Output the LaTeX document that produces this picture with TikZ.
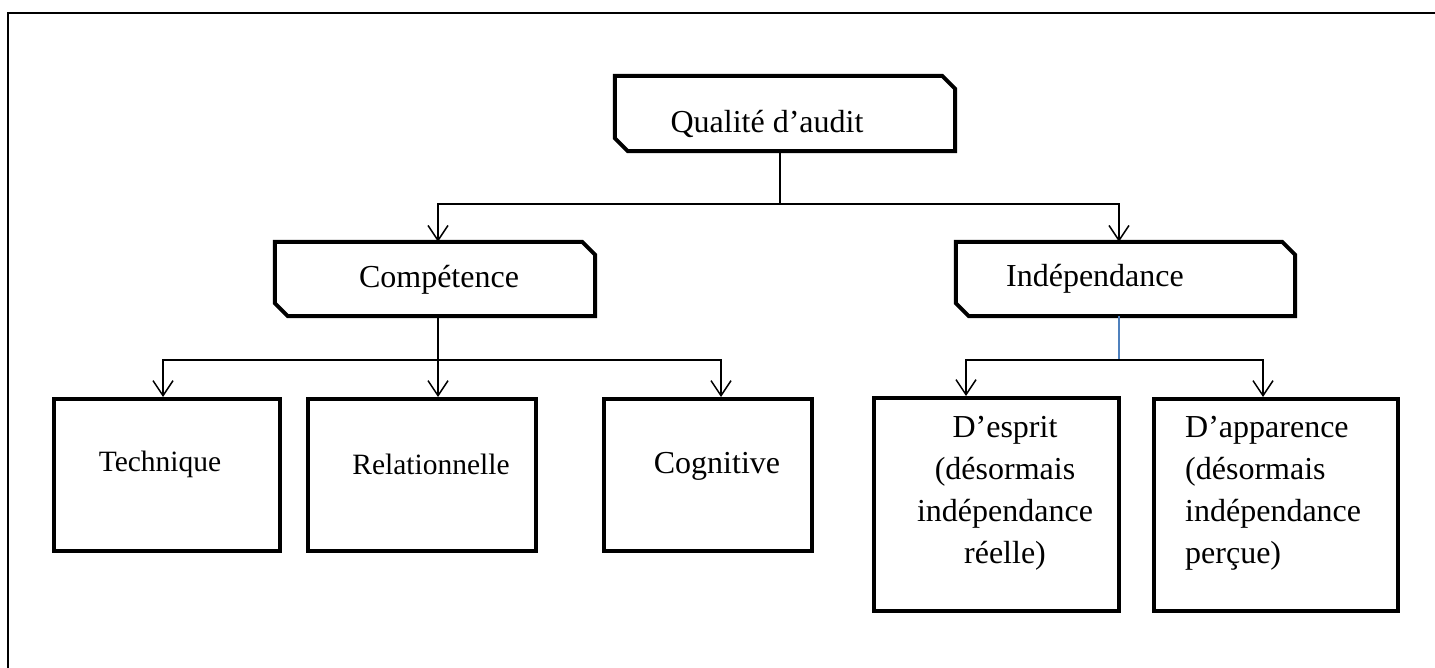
\documentclass[tikz,border=0pt]{standalone}
\usepackage{fontspec}
\setmainfont{Liberation Serif}
\usetikzlibrary{arrows.meta}
\definecolor{linkblue}{RGB}{79,129,189}
\begin{document}
\begin{tikzpicture}[x=1pt,y=-1pt,
  boxarea/.style={draw=none,rectangle,inner sep=0pt},
  thickbox/.style={line width=4pt,line join=miter},
  lbl/.style={font=\fontsize{32}{42}\selectfont,inner sep=0pt,align=center},
  lblsmall/.style={font=\fontsize{29.5}{42}\selectfont,inner sep=0pt,align=center},
  conn/.style={line width=1.5pt},
  arr/.style={line width=1.5pt,-{Straight Barb[length=15pt,width=20pt,line width=1.5pt]}}]
\useasboundingbox (0,0) rectangle (1435,668);
\fill[white] (0,0) rectangle (1435,668);
% outer frame (only top and left edges are visible)
\draw[line width=2pt] (8,668) -- (8,13) -- (1435,13);

% boxes
\node[boxarea,minimum width=340pt,minimum height=75pt] (qa) at (785,113.5) {};
\node[boxarea,minimum width=320pt,minimum height=74pt] (comp) at (435,279) {};
\node[boxarea,minimum width=339pt,minimum height=74pt] (ind) at (1125.5,279) {};
\node[boxarea,draw,thickbox,minimum width=226pt,minimum height=152pt] (tech) at (167,475) {};
\node[boxarea,draw,thickbox,minimum width=228pt,minimum height=152pt] (rel) at (422,475) {};
\node[boxarea,draw,thickbox,minimum width=208pt,minimum height=152pt] (cog) at (708,475) {};
\node[boxarea,draw,thickbox,minimum width=245pt,minimum height=213pt] (esp) at (996.5,504.5) {};
\node[boxarea,draw,thickbox,minimum width=244pt,minimum height=212pt] (app) at (1276,505) {};

% chamfered outlines (top-right and bottom-left corners cut)
\foreach \b in {qa,comp,ind}{
  \draw[thickbox] (\b.north west) -- ([xshift=-13pt]\b.north east) -- ([yshift=-13pt]\b.north east)
    -- (\b.south east) -- ([xshift=13pt]\b.south west) -- ([yshift=13pt]\b.south west) -- cycle;
}

% texts
\node[lbl] (tqa) at (767,124) {Qualité d’audit};
\node[lbl] (tcomp) at (439,280) {Compétence};
\node[lbl] (tind) at (1095,279) {Indépendance};
\node[lblsmall] (ttech) at (160,464) {Technique};
\node[lblsmall] (trel) at (431,464) {Relationnelle};
\node[lbl] (tcog) at (717,466) {Cognitive};
\node[lbl] (tesp) at (1005,493) {D’esprit\\(désormais\\indépendance\\réelle)};
\node[lbl,align=left,anchor=west] (tapp) at (1185,493) {D’apparence\\(désormais\\indépendance\\perçue)};

% connectors
\draw[conn] ([xshift=-5pt]qa.south) -- ++(0,53) coordinate (j1);
\draw[arr] (j1) -| ([xshift=3pt]comp.north);
\draw[arr] (j1) -| ([xshift=-6.5pt]ind.north);

\draw[conn] ([xshift=3pt]comp.south) -- ++(0,44) coordinate (j2);
\draw[arr] (j2) -| ([xshift=-4pt]tech.north);
\draw[arr] (j2) -- (j2 |- rel.north);
\draw[arr] (j2) -| ([xshift=13pt]cog.north);

\draw[conn,linkblue] ([xshift=-6.5pt]ind.south) -- ++(0,44) coordinate (j3);
\draw[arr] (j3) -| ([xshift=-30.5pt]esp.north);
\draw[arr] (j3) -| ([xshift=-13pt]app.north);
\end{tikzpicture}
\end{document}
